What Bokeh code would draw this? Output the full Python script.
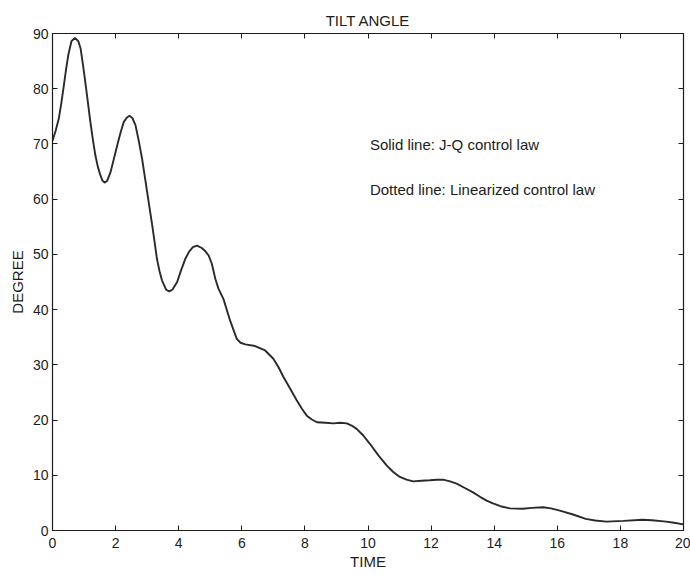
from bokeh.plotting import figure
from bokeh.models import LinearAxis, SingleIntervalTicker, Label, CustomJSTickFormatter
from bokeh.embed import file_html
from bokeh.resources import INLINE

# Data (TIME vs tilt angle in DEGREE)
time = [0.0, 0.1, 0.2, 0.28, 0.36, 0.43, 0.5, 0.6, 0.71, 0.82, 0.89, 0.96, 1.04, 1.12,
        1.2, 1.28, 1.36, 1.44, 1.52, 1.58, 1.65, 1.73, 1.84, 1.94, 2.05, 2.16, 2.26,
        2.36, 2.44, 2.53, 2.63, 2.73, 2.84, 2.92, 3.0, 3.08, 3.16, 3.24, 3.31, 3.39,
        3.47, 3.6, 3.7, 3.8, 3.95, 4.08, 4.21, 4.33, 4.45, 4.58, 4.72, 4.84, 4.95,
        5.05, 5.16, 5.26, 5.42, 5.63, 5.84, 5.96, 6.11, 6.42, 6.74, 7.0, 7.16, 7.32,
        7.53, 7.74, 7.9, 8.06, 8.22, 8.38, 8.65, 8.9, 9.12, 9.33, 9.48, 9.64, 9.85,
        10.06, 10.33, 10.59, 10.8, 11.01, 11.22, 11.43, 11.7, 11.96, 12.18, 12.38,
        12.6, 12.81, 13.07, 13.33, 13.55, 13.76, 13.96, 14.2, 14.5, 14.9, 15.2, 15.55,
        15.8, 16.08, 16.5, 16.9, 17.2, 17.56, 18.1, 18.7, 19.0, 19.45, 19.7, 20.0]
solid_angle = [70.6, 72.4, 74.6, 77.4, 80.6, 83.5, 86.1, 88.6, 89.2, 88.6, 87.3, 84.6, 81.2,
               77.6, 74.0, 70.8, 67.9, 65.8, 64.3, 63.4, 63.0, 63.3, 64.9, 67.2, 69.7,
               72.1, 74.0, 74.8, 75.1, 74.7, 73.4, 70.7, 67.3, 64.3, 61.3, 58.3, 55.3,
               52.1, 49.2, 47.0, 45.3, 43.6, 43.3, 43.6, 45.0, 47.2, 49.2, 50.5, 51.3,
               51.6, 51.2, 50.6, 49.8, 48.3, 45.6, 43.8, 41.9, 38.0, 34.7, 34.0, 33.7,
               33.4, 32.6, 31.1, 29.6, 27.8, 25.7, 23.6, 22.1, 20.8, 20.1, 19.6, 19.5,
               19.4, 19.5, 19.4, 19.0, 18.4, 17.2, 15.7, 13.6, 11.8, 10.6, 9.7, 9.2, 8.9,
               9.0, 9.1, 9.2, 9.2, 8.9, 8.5, 7.7, 6.9, 6.1, 5.4, 4.9, 4.4, 4.0, 3.95, 4.1,
               4.2, 4.0, 3.6, 2.9, 2.1, 1.8, 1.6, 1.75, 1.95, 1.85, 1.6, 1.4, 1.1]

title_text = "TILT ANGLE"
x_label = "TIME"
y_label = "DEGREE"
note_solid = "Solid line: J-Q control law"
note_dotted = "Dotted line: Linearized control law"

FONT = "Liberation Sans"
INK = "#1c1c1c"

p = figure(frame_width=631, frame_height=497, x_range=(0, 20), y_range=(0, 90),
           output_backend="svg", toolbar_location=None,
           min_border_left=52, min_border_right=7, min_border_top=33, min_border_bottom=46)
p.background_fill_color = "white"
p.border_fill_color = "white"
p.outline_line_color = INK
p.outline_line_width = 1.2
p.xgrid.visible = False
p.ygrid.visible = False

p.title.text = title_text
p.title.align = "center"
p.title.text_font = FONT
p.title.text_font_size = "15px"
p.title.text_font_style = "normal"
p.title.text_color = INK

p.line(time, solid_angle, line_color="#2a2a2a", line_width=1.9)

for ax in (p.xaxis[0], p.yaxis[0]):
    ax.major_tick_in = 5
    ax.major_tick_out = 0
    ax.minor_tick_in = 0
    ax.minor_tick_out = 0
    ax.axis_line_color = INK
    ax.major_tick_line_color = INK
    ax.major_label_text_font = FONT
    ax.major_label_text_font_size = "14px"
    ax.major_label_text_color = INK
    ax.axis_label_text_font = FONT
    ax.axis_label_text_font_size = "15px"
    ax.axis_label_text_font_style = "normal"
    ax.axis_label_text_color = INK

p.xaxis.ticker = SingleIntervalTicker(interval=2)
p.yaxis.ticker = SingleIntervalTicker(interval=10)
p.xaxis.axis_label = x_label
p.yaxis.axis_label = y_label
p.xaxis.major_label_standoff = 7
p.yaxis.major_label_standoff = 4
p.xaxis.axis_label_standoff = 2
p.yaxis.axis_label_standoff = 4

blank = CustomJSTickFormatter(code="return ''")
top = LinearAxis(ticker=SingleIntervalTicker(interval=2), major_tick_in=5, major_tick_out=0,
                 minor_tick_in=0, minor_tick_out=0, formatter=blank,
                 axis_line_color=INK, major_tick_line_color=INK, major_label_standoff=0)
right = LinearAxis(ticker=SingleIntervalTicker(interval=10), major_tick_in=5, major_tick_out=0,
                   minor_tick_in=0, minor_tick_out=0, formatter=blank,
                   axis_line_color=INK, major_tick_line_color=INK, major_label_standoff=0)
p.add_layout(top, "above")
p.add_layout(right, "right")

for txt, yv in ((note_solid, 69.9), (note_dotted, 61.8)):
    p.add_layout(Label(x=10.06, y=yv, text=txt, text_baseline="middle",
                       text_font=FONT, text_font_size="15px", text_color=INK))

open("out.html", "w").write(file_html(p, INLINE))
